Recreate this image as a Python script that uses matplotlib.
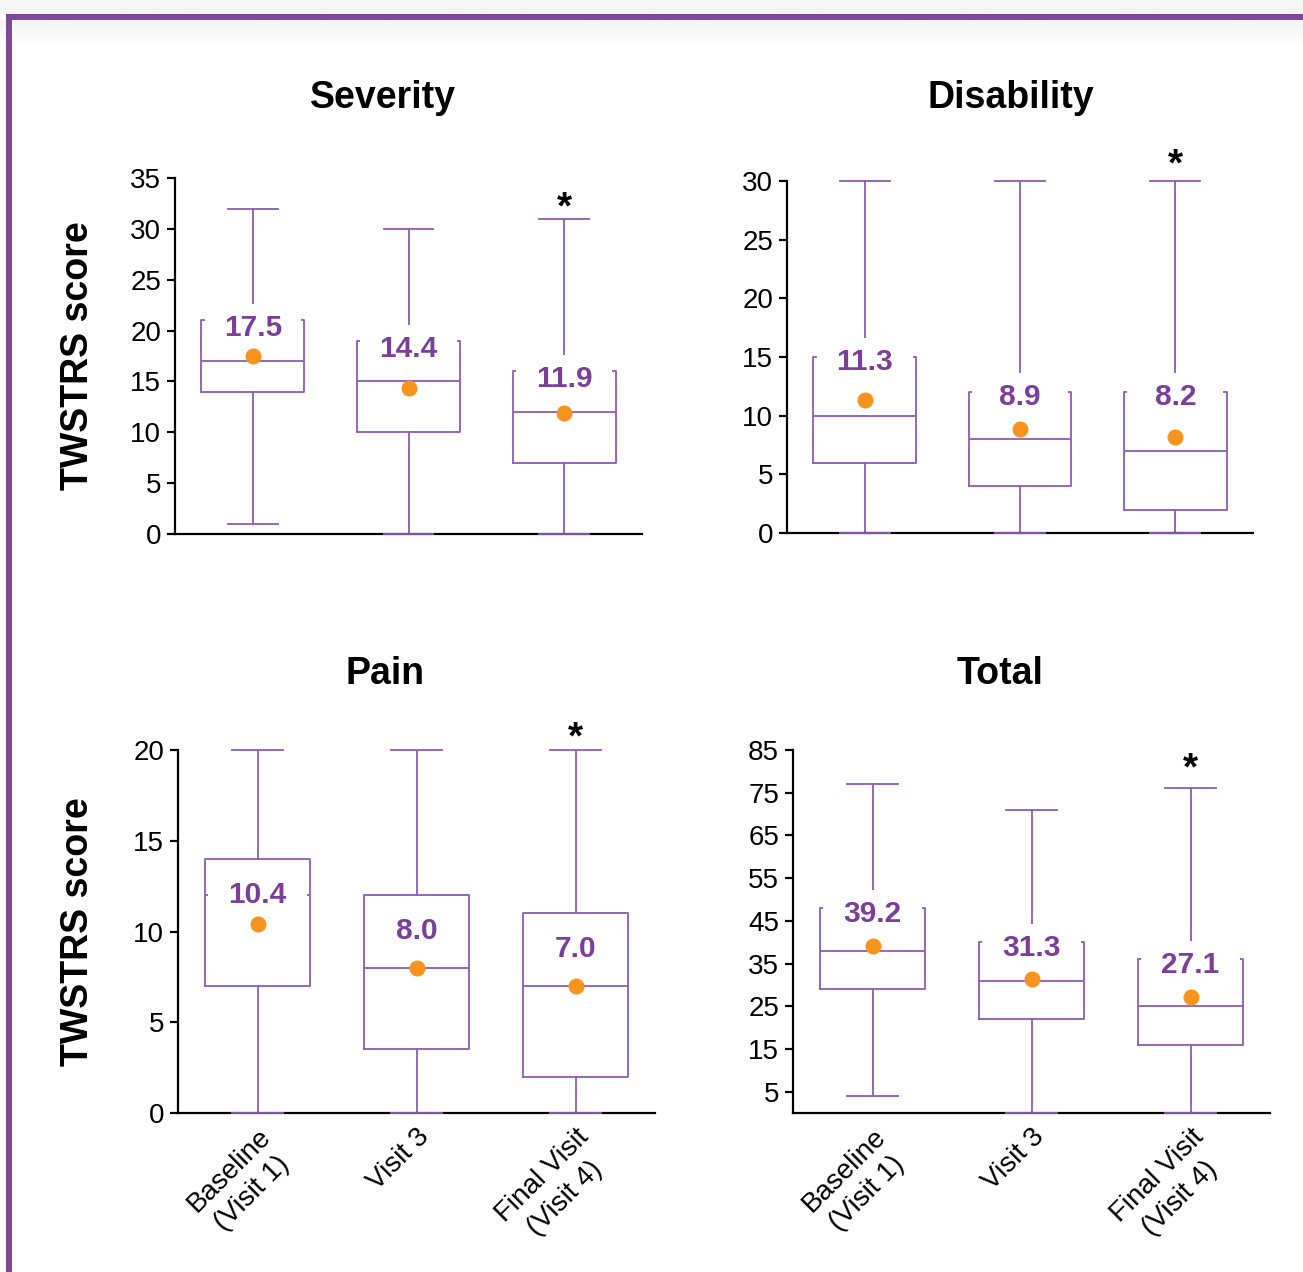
import matplotlib
matplotlib.use('Agg')
import matplotlib.pyplot as plt
import numpy as np
from matplotlib.patches import Rectangle

plt.rcParams['font.family'] = ['Liberation Sans', 'DejaVu Sans']

# ---------------- data ----------------
visits = ['Baseline\n(Visit 1)', 'Visit 3', 'Final Visit\n(Visit 4)']

severity_whislo = [1, 0, 0]
severity_q1 = [14, 10, 7]
severity_med = [17, 15, 12]
severity_q3 = [21, 19, 16]
severity_whishi = [32, 30, 31]
severity_mean = [17.5, 14.4, 11.9]

disability_whislo = [0, 0, 0]
disability_q1 = [6, 4, 2]
disability_med = [10, 8, 7]
disability_q3 = [15, 12, 12]
disability_whishi = [30, 30, 30]
disability_mean = [11.3, 8.9, 8.2]

pain_whislo = [0, 0, 0]
pain_q1 = [7, 3.5, 2]
pain_med = [12, 8, 7]
pain_q3 = [14, 12, 11]
pain_whishi = [20, 20, 20]
pain_mean = [10.4, 8.0, 7.0]

total_whislo = [4, 0, 0]
total_q1 = [29, 22, 16]
total_med = [38, 31, 25]
total_q3 = [48, 40, 36]
total_whishi = [77, 71, 76]
total_mean = [39.2, 31.3, 27.1]

significant = [False, False, True]  # asterisk marks

severity_ticks = [0, 5, 10, 15, 20, 25, 30, 35]
disability_ticks = [0, 5, 10, 15, 20, 25, 30]
pain_ticks = [0, 5, 10, 15, 20]
total_ticks = [5, 15, 25, 35, 45, 55, 65, 75, 85]

# ---------------- style ----------------
W, H = 1303, 1272
BOX_C = '#8E5DB6'
LAB_C = '#7B3F99'
DOT_C = '#F7941D'
BORDER_C = '#7D4A9B'

fig = plt.figure(figsize=(W / 100, H / 100), dpi=100)

# page background with light shading and purple frame
bg = fig.add_axes([0, 0, 1, 1], zorder=-10)
rows = np.ones(H)
yy = np.arange(H)
rows[yy < 14] = 0.962
sh = (yy >= 20)
rows[sh] = 0.952 + (1 - 0.952) * np.clip((yy[sh] - 20) / 28.0, 0, 1)
img = np.repeat(rows[:, None], 4, axis=1)
bg.imshow(img, cmap='gray', vmin=0, vmax=1, aspect='auto',
          extent=[0, W, H, 0], interpolation='bilinear')
bg.add_patch(Rectangle((6, 14), W - 6, 6, color=BORDER_C, lw=0))
bg.add_patch(Rectangle((6, 14), 6, H - 14, color=BORDER_C, lw=0))
bg.set_xlim(0, W)
bg.set_ylim(H, 0)
bg.axis('off')


def make_axes(left, right, top, bottom):
    return fig.add_axes([left / W, 1 - bottom / H, (right - left) / W, (bottom - top) / H])


panels = [
    dict(title='Severity', rect=(175, 642, 178, 534), ylim=(0, 35), ticks=severity_ticks,
         data=(severity_whislo, severity_q1, severity_med, severity_q3, severity_whishi, severity_mean),
         title_xy=(383, 98), lab_off=6, star_off=20, ylabel=True, xlabels=False),
    dict(title='Disability', rect=(787, 1253, 181, 533), ylim=(0, 30), ticks=disability_ticks,
         data=(disability_whislo, disability_q1, disability_med, disability_q3, disability_whishi, disability_mean),
         title_xy=(1011, 98), lab_off=3, star_off=26, ylabel=False, xlabels=False),
    dict(title='Pain', rect=(178, 655, 750, 1113), ylim=(0, 20), ticks=pain_ticks,
         data=(pain_whislo, pain_q1, pain_med, pain_q3, pain_whishi, pain_mean),
         title_xy=(385, 674), lab_off=34, star_off=22, ylabel=True, xlabels=True),
    dict(title='Total', rect=(793, 1270, 750, 1113), ylim=(0, 85), ticks=total_ticks,
         data=(total_whislo, total_q1, total_med, total_q3, total_whishi, total_mean),
         title_xy=(1000, 674), lab_off=4, star_off=29, ylabel=False, xlabels=True),
]

positions = [1, 2, 3]

for p in panels:
    ax = make_axes(*p['rect'])
    whislo, q1, med, q3, whishi, mean = p['data']
    stats = []
    for i in range(3):
        stats.append(dict(whislo=whislo[i], q1=q1[i], med=med[i], q3=q3[i],
                          whishi=whishi[i], mean=mean[i], fliers=[]))
    lw = 1.3
    art = ax.bxp(stats, positions=positions, widths=0.66, showmeans=True, showfliers=False,
                 patch_artist=False,
                 boxprops=dict(color=BOX_C, linewidth=lw),
                 whiskerprops=dict(color=BOX_C, linewidth=lw),
                 capprops=dict(color=BOX_C, linewidth=lw),
                 medianprops=dict(color=BOX_C, linewidth=lw),
                 meanprops=dict(marker='o', markerfacecolor=DOT_C, markeredgecolor=DOT_C,
                                markersize=10.5),
                 capwidths=0.32)
    for c in art['caps']:
        c.set_zorder(3)
        c.set_clip_on(False)
    for m in art['means']:
        m.set_zorder(6)
        m.set_clip_on(False)

    ax.set_xlim(0.5, 3.5)
    ax.set_ylim(*p['ylim'])
    ax.set_yticks(p['ticks'])
    ax.spines['top'].set_visible(False)
    ax.spines['right'].set_visible(False)
    for s in ('left', 'bottom'):
        ax.spines[s].set_linewidth(1.6)
        ax.spines[s].set_color('black')
    ax.tick_params(axis='y', direction='out', length=6, width=1.6, labelsize=20, pad=4)
    ax.tick_params(axis='x', length=0)
    ax.set_facecolor('none')

    # pixel -> data conversion for y
    inv = ax.transData.inverted()
    def dy(px):
        return inv.transform((0, px))[1] - inv.transform((0, 0))[1]

    for i, x in enumerate(positions):
        # white background behind mean label
        yc = q3[i] - dy(p['lab_off'])
        ax.add_patch(Rectangle((x - 0.31, yc - dy(22)), 0.62, dy(44),
                               facecolor='white', edgecolor='none', zorder=3))
        ax.annotate(f'{mean[i]:.1f}', xy=(x, q3[i]), xytext=(0, -p['lab_off'] - 10),
                    textcoords='offset pixels', ha='center', va='baseline',
                    fontsize=21.5, fontweight='bold', color=LAB_C, zorder=5)
        if significant[i]:
            ax.annotate('*', xy=(x, whishi[i]), xytext=(0, p['star_off'] - 20),
                        textcoords='offset pixels', ha='center', va='baseline',
                        fontsize=28, fontweight='bold', color='black',
                        annotation_clip=False, zorder=5)

    if p['xlabels']:
        ax.set_xticks(positions)
        ax.set_xticklabels(visits, rotation=45, ha='right', va='top',
                           rotation_mode='anchor', fontsize=20, multialignment='center',
                           linespacing=1.3)
        ax.tick_params(axis='x', pad=8)
    else:
        ax.set_xticks([])

    fig.text(p['title_xy'][0] / W, 1 - p['title_xy'][1] / H, p['title'],
             ha='center', va='center', fontsize=27, fontweight='bold')
    if p['ylabel']:
        cy = (p['rect'][2] + p['rect'][3]) / 2
        fig.text(78 / W, 1 - (cy) / H, 'TWSTRS score', rotation=90,
                 ha='center', va='center', fontsize=27, fontweight='bold')

fig.savefig('out.png', dpi=100)
